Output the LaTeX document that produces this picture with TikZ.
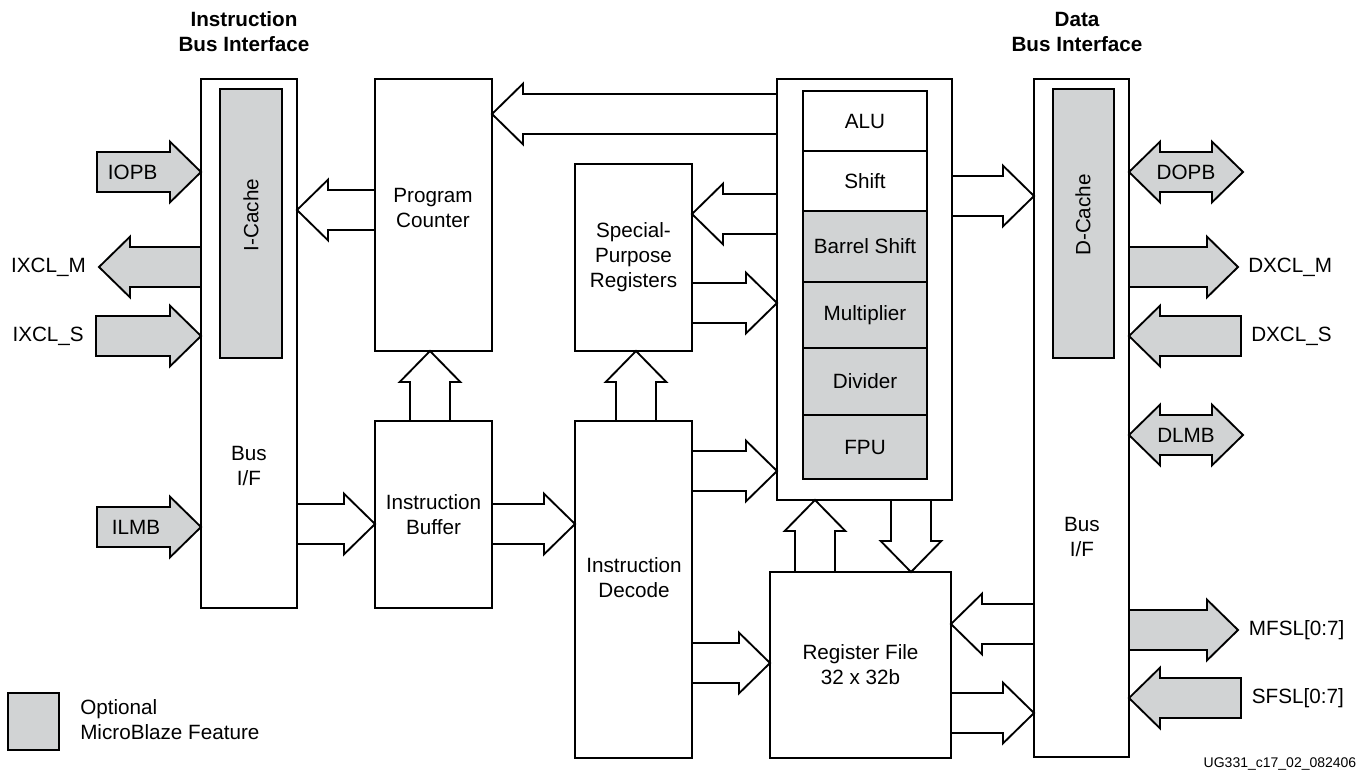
\documentclass[tikz,border=0pt]{standalone}
\usepackage{fontspec}
\setmainfont{Liberation Sans}
\usetikzlibrary{positioning, calc, backgrounds}
\definecolor{optgray}{RGB}{209,211,212}
% outline of a wide bus arrow from \tikztostart to \tikztotarget
\newcommand{\fatbody}{(\tikztostart) coordinate (fa-s) (\tikztotarget) coordinate (fa-t)
  ($(fa-t)!23.25pt!(fa-s)$) coordinate (fa-b)
  ($(fa-s)!15pt!90:(fa-t)$) -- ($(fa-b)!15pt!90:(fa-t)$) -- ($(fa-b)!22.75pt!90:(fa-t)$) -- (fa-t)
  -- ($(fa-b)!22.75pt!-90:(fa-t)$) -- ($(fa-b)!15pt!-90:(fa-t)$) -- ($(fa-s)!15pt!-90:(fa-t)$)}
\tikzset{
  box/.style={draw, line width=1.4pt, outer sep=0pt, inner sep=0pt, anchor=north west, align=center},
  optbox/.style={box, fill=optgray},
  unit/.style={draw, line width=1.4pt, outer sep=0pt, inner sep=0pt, fill=white, minimum width=93pt},
  optunit/.style={unit, fill=optgray},
  lbl/.style={inner sep=0pt, align=center},
  bus/.style={draw, line width=1.4pt, fill=white, to path={\fatbody}},
  optbus/.style={bus, fill=optgray},
  inbus/.style={draw, line width=1.4pt, fill=optgray, to path={\fatbody -- cycle}},
  biobus/.style={draw, line width=1.4pt, fill=optgray, to path={
    (\tikztostart) coordinate (fa-s) (\tikztotarget) coordinate (fa-t)
    ($(fa-s)!23.25pt!(fa-t)$) coordinate (fa-a)
    ($(fa-t)!23.25pt!(fa-s)$) coordinate (fa-b)
    (fa-s) -- ($(fa-a)!22.75pt!90:(fa-t)$) -- ($(fa-a)!15pt!90:(fa-t)$) -- ($(fa-b)!15pt!90:(fa-t)$)
    -- ($(fa-b)!22.75pt!90:(fa-t)$) -- (fa-t) -- ($(fa-b)!22.75pt!-90:(fa-t)$) -- ($(fa-b)!15pt!-90:(fa-t)$)
    -- ($(fa-a)!15pt!-90:(fa-t)$) -- ($(fa-a)!22.75pt!-90:(fa-t)$) -- cycle}}
}

\begin{document}
\begin{tikzpicture}[x=0.75pt, y=-0.75pt, font=\fontsize{15.5}{18.75}\selectfont]
    \useasboundingbox (0,0) rectangle (1359,772);

    % titles
    \node[lbl, font=\fontsize{15.5}{18.75}\selectfont\bfseries] (ititle) at (244,32) {Instruction\\Bus Interface};
    \node[lbl, font=\fontsize{15.5}{18.75}\selectfont\bfseries] (dtitle) at (1077,32) {Data\\Bus Interface};

    % instruction side
    \node[box, minimum width=72pt, minimum height=396.75pt] (ibif) at (201,79) {};
    \node[optbox, minimum width=46.5pt, minimum height=201.75pt] (icache) at (220,89) {};
    \node[lbl, rotate=90] (icachetxt) at (251,215) {I-Cache};
    \node[lbl] (ibiftxt) at (249,466) {Bus\\I/F};
    \node[box, minimum width=87.75pt, minimum height=204pt] (pc) at (375,79) {};
    \node[lbl] (pctxt) at (433,207.5) {Program\\Counter};
    \node[box, minimum width=87.75pt, minimum height=140.25pt] (ib) at (375,421) {Instruction\\Buffer};
    \node[box, minimum width=87.75pt, minimum height=140.25pt] (spr) at (575,164) {Special-\\Purpose\\Registers};
    \node[box, minimum width=87.75pt, minimum height=252.75pt] (id) at (575,421) {};
    \node[lbl] (idtxt) at (634,578) {Instruction\\Decode};

    % execution units
    \node[box, minimum width=131.25pt, minimum height=315.75pt] (ex) at (777,79) {};
    \node[unit, minimum height=45pt, anchor=north] (alu) at (865,91) {ALU};
    \node[unit, minimum height=45pt, below=0pt of alu] (shift) {Shift};
    \node[optunit, minimum height=53.25pt, below=0pt of shift] (barrel) {Barrel Shift};
    \node[optunit, minimum height=49.5pt, below=0pt of barrel] (mult) {Multiplier};
    \node[optunit, minimum height=50.25pt, below=0pt of mult] (div) {Divider};
    \node[optunit, minimum height=48pt, below=0pt of div] (fpu) {FPU};
    \node[box, minimum width=135.75pt, minimum height=139.5pt] (rf) at (770,572) {Register File\\32 x 32b};

    % data side
    \node[box, minimum width=71.25pt, minimum height=508.5pt] (dbif) at (1034,79) {};
    \node[optbox, minimum width=45.75pt, minimum height=201.75pt] (dcache) at (1053,89) {};
    \node[lbl, rotate=90] (dcachetxt) at (1083,215) {D-Cache};
    \node[lbl] (dbiftxt) at (1082,537) {Bus\\I/F};

    % outer bus ends
    \coordinate (iopb) at (97,172);
    \coordinate (ixclm) at (99,267);
    \coordinate (ixcls) at (96,336);
    \coordinate (ilmb) at (97,527);
    \coordinate (dopb) at (1243,172);
    \coordinate (dxclm) at (1238,267);
    \coordinate (dxcls) at (1241,336);
    \coordinate (dlmb) at (1243,435);
    \coordinate (mfsl) at (1238,630);
    \coordinate (sfsl) at (1241,698);

    \begin{scope}[on background layer]
        \draw[bus] (ex.west |- 0,114) to (pc.east |- 0,114);
        \draw[bus] (pc.west |- 0,210) to (ibif.east |- 0,210);
        \draw[bus] (ex.west |- 0,214) to (spr.east |- 0,214);
        \draw[bus] (spr.east |- 0,303) to (ex.west |- 0,303);
        \draw[bus] (ex.east |- 0,196) to (dbif.west |- 0,196);
        \draw[bus] (ibif.east |- 0,524) to (ib.west |- 0,524);
        \draw[bus] (ib.east |- 0,524) to (id.west |- 0,524);
        \draw[bus] (id.east |- 0,471) to (ex.west |- 0,471);
        \draw[bus] (id.east |- 0,663) to (rf.west |- 0,663);
        \draw[bus] (dbif.west |- 0,624) to (rf.east |- 0,624);
        \draw[bus] (rf.east |- 0,713) to (dbif.west |- 0,713);
        \draw[bus] (ib.north -| 430,0) to (pc.south -| 430,0);
        \draw[bus] (id.north -| 636,0) to (spr.south -| 636,0);
        \draw[bus] (rf.north -| 815,0) to (ex.south -| 815,0);
        \draw[bus] (ex.south -| 911,0) to (rf.north -| 911,0);

        \draw[inbus] (iopb) to (ibif.west |- iopb);
        \draw[optbus] (ibif.west |- ixclm) to (ixclm);
        \draw[inbus] (ixcls) to (ibif.west |- ixcls);
        \draw[inbus] (ilmb) to (ibif.west |- ilmb);
        \draw[biobus] (dbif.east |- dopb) to (dopb);
        \draw[optbus] (dbif.east |- dxclm) to (dxclm);
        \draw[inbus] (dxcls) to (dbif.east |- dxcls);
        \draw[biobus] (dbif.east |- dlmb) to (dlmb);
        \draw[optbus] (dbif.east |- mfsl) to (mfsl);
        \draw[inbus] (sfsl) to (dbif.east |- sfsl);
    \end{scope}

    % bus names
    \node[lbl, right=8pt of iopb] (iopbtxt) {IOPB};
    \node[lbl, left=9.75pt of ixclm] (ixclmtxt) {IXCL\_M};
    \node[lbl, left=9pt of ixcls] (ixclstxt) {IXCL\_S};
    \node[lbl, right=11pt of ilmb] (ilmbtxt) {ILMB};
    \node[lbl] (dopbtxt) at ($(dbif.east |- dopb)!0.5!(dopb)$) {DOPB};
    \node[lbl, right=7.5pt of dxclm] (dxclmtxt) {DXCL\_M};
    \node[lbl, right=7.5pt of dxcls] (dxclstxt) {DXCL\_S};
    \node[lbl] (dlmbtxt) at ($(dbif.east |- dlmb)!0.5!(dlmb)$) {DLMB};
    \node[lbl, right=8pt of mfsl] (mfsltxt) {MFSL[0:7]};
    \node[lbl, right=8pt of sfsl] (sfsltxt) {SFSL[0:7]};

    % legend
    \node[optbox, minimum width=38.25pt, minimum height=42.75pt] (legbox) at (8,693) {};
    \node[lbl, align=left, anchor=west] (legtxt) at (80,720) {Optional\\MicroBlaze Feature};
    \node[lbl, font=\fontsize{10.5}{12}\selectfont] (figid) at (1280,764) {UG331\_c17\_02\_082406};

\end{tikzpicture}
\end{document}
